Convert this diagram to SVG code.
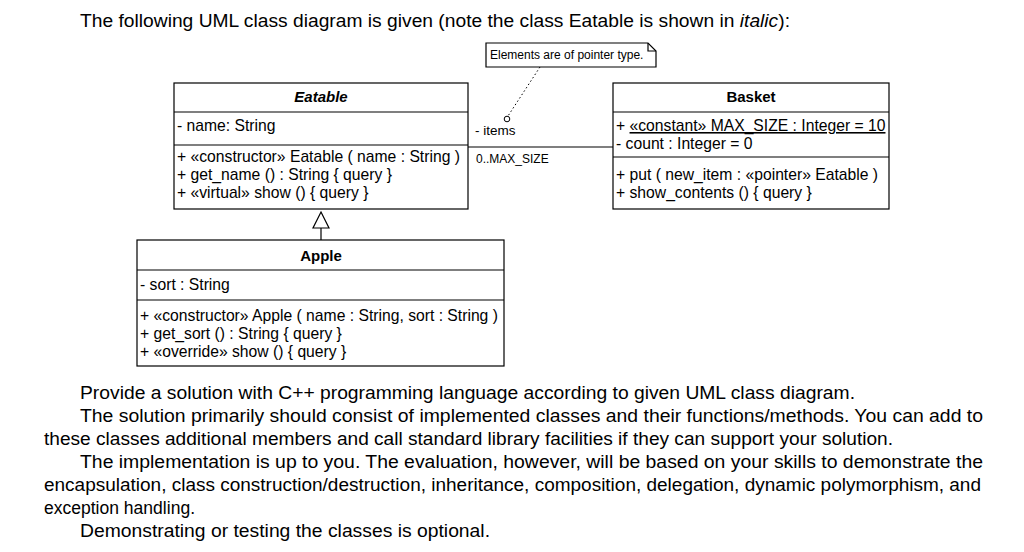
<svg xmlns="http://www.w3.org/2000/svg" width="1024" height="552" viewBox="0 0 1024 552">
<style>
text{font-family:"Liberation Sans",Arial,sans-serif;fill:#000}
.b{fill:#fff;stroke:#000;stroke-width:1.2}
.l{stroke:#000;stroke-width:1.2;fill:none}
.t{font-size:15.7px}
.h{font-size:15px;font-weight:bold}
.p{font-size:17.5px}
.s{font-size:12px}
</style>
<rect width="1024" height="552" fill="#fff"/>
<text class="p" x="80" y="27" textLength="710" lengthAdjust="spacingAndGlyphs">The following UML class diagram is given (note the class Eatable is shown in <tspan font-style="italic">italic</tspan>):</text>
<g id="note">
<path class="b" d="M486,43 H648 L656,51 V67 H486 Z"/>
<path class="l" d="M648,43 V51 H656"/>
<text class="s" x="490" y="59" font-size="12.5">Elements are of pointer type.</text>
</g>
<g id="connectors">
<line class="l" x1="468" y1="147" x2="613" y2="147"/>
<line x1="540" y1="67" x2="508" y2="116" stroke="#000" stroke-dasharray="1.5,2.5"/>
<circle cx="507" cy="119" r="2.8" fill="#fff" stroke="#000"/>
<text x="475" y="135" font-size="13.5">- items</text>
<text class="s" x="476" y="163">0..MAX_SIZE</text>
<line class="l" x1="321" y1="228" x2="321" y2="240"/>
<path class="b" d="M321,212 L329,228 H313 Z"/>
</g>
<g id="eatable">
<rect class="b" x="174" y="83" width="294" height="126"/>
<line class="l" x1="174" y1="112" x2="468" y2="112"/>
<line class="l" x1="174" y1="145" x2="468" y2="145"/>
<text class="h" x="321" y="102" text-anchor="middle" font-style="italic">Eatable</text>
<text class="t" x="177" y="131">- name: String</text>
<text class="t" x="177" y="162">+ «constructor» Eatable ( name : String )</text>
<text class="t" x="177" y="180">+ get_name () : String { query }</text>
<text class="t" x="177" y="198">+ «virtual» show () { query }</text>
</g>
<g id="basket">
<rect class="b" x="613" y="83" width="276" height="126"/>
<line class="l" x1="613" y1="112" x2="889" y2="112"/>
<line class="l" x1="613" y1="157" x2="889" y2="157"/>
<text class="h" x="751" y="102" text-anchor="middle">Basket</text>
<text class="t" x="616" y="131">+ <tspan text-decoration="underline">«constant» MAX_SIZE : Integer = 10</tspan></text>
<text class="t" x="616" y="149">- count : Integer = 0</text>
<text class="t" x="616" y="180">+ put ( new_item : «pointer» Eatable )</text>
<text class="t" x="616" y="198">+ show_contents () { query }</text>
</g>
<g id="apple">
<rect class="b" x="137" y="240" width="367" height="126"/>
<line class="l" x1="137" y1="270" x2="504" y2="270"/>
<line class="l" x1="137" y1="300" x2="504" y2="300"/>
<text class="h" x="321" y="261" text-anchor="middle">Apple</text>
<text class="t" x="140" y="290">- sort : String</text>
<text class="t" x="140" y="321">+ «constructor» Apple ( name : String, sort : String )</text>
<text class="t" x="140" y="339">+ get_sort () : String { query }</text>
<text class="t" x="140" y="357">+ «override» show () { query }</text>
</g>
<text class="p" x="80" y="399" textLength="775" lengthAdjust="spacingAndGlyphs">Provide a solution with C++ programming language according to given UML class diagram.</text>
<text class="p" x="80" y="422" textLength="903" lengthAdjust="spacingAndGlyphs">The solution primarily should consist of implemented classes and their functions/methods. You can add to</text>
<text class="p" x="44" y="445" textLength="849" lengthAdjust="spacingAndGlyphs">these classes additional members and call standard library facilities if they can support your solution.</text>
<text class="p" x="80" y="468" textLength="903" lengthAdjust="spacingAndGlyphs">The implementation is up to you. The evaluation, however, will be based on your skills to demonstrate the</text>
<text class="p" x="44" y="491" textLength="937" lengthAdjust="spacingAndGlyphs">encapsulation, class construction/destruction, inheritance, composition, delegation, dynamic polymorphism, and</text>
<text class="p" x="44" y="514" textLength="151" lengthAdjust="spacingAndGlyphs">exception handling.</text>
<text class="p" x="80" y="537" textLength="410" lengthAdjust="spacingAndGlyphs">Demonstrating or testing the classes is optional.</text>
</svg>
